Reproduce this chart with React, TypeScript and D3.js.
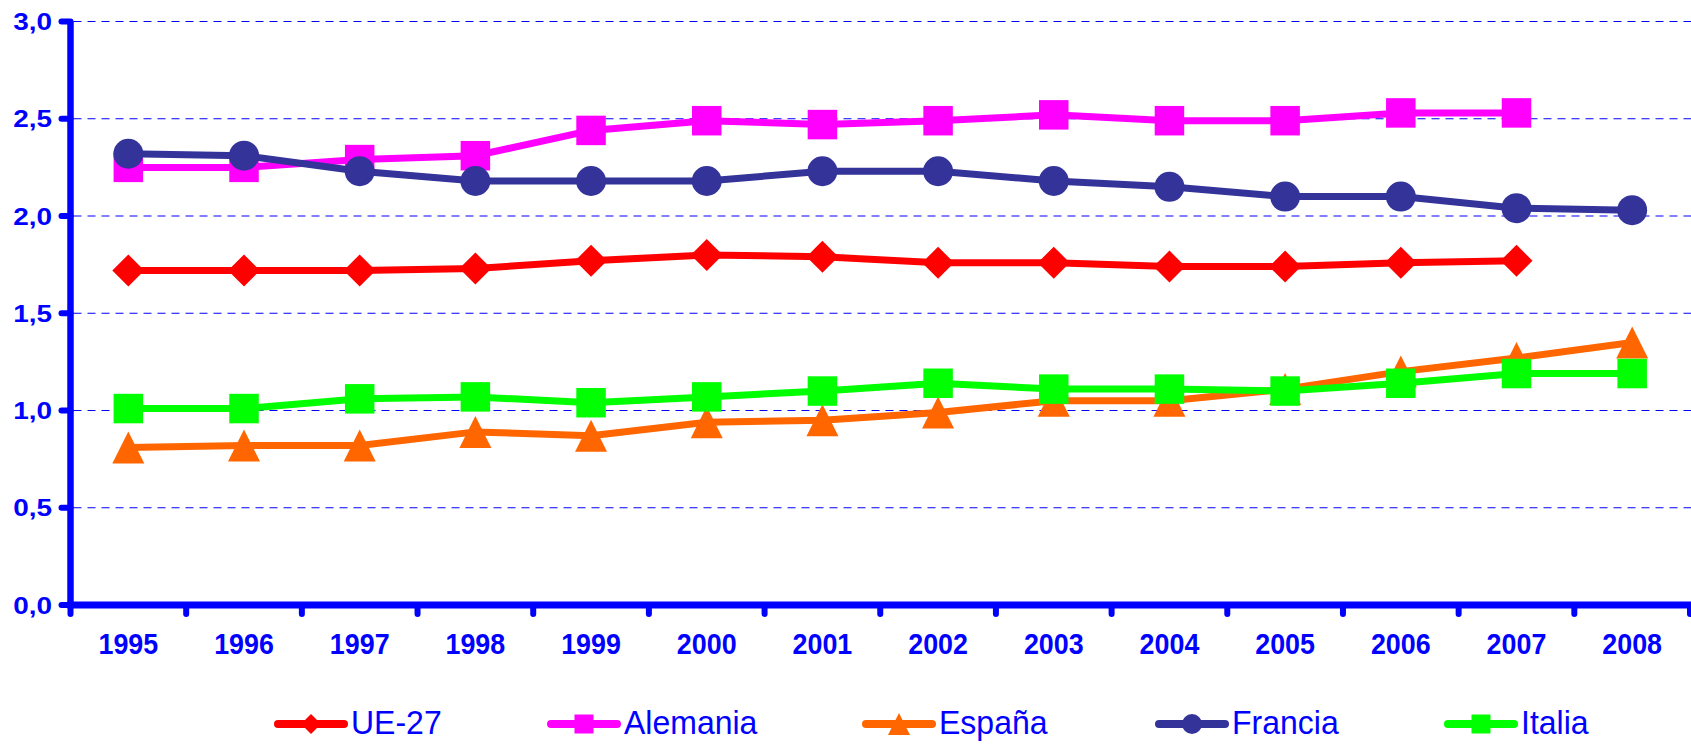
import React from "react";
import * as d3 from "d3";

const years = ["1995","1996","1997","1998","1999","2000","2001","2002","2003","2004","2005","2006","2007","2008"];
const yTicks = [0, 0.5, 1.0, 1.5, 2.0, 2.5, 3.0];

const ue27 = [1.72,1.72,1.72,1.73,1.77,1.80,1.79,1.76,1.76,1.74,1.74,1.76,1.77, null];
const alemania = [2.25,2.25,2.29,2.31,2.44,2.49,2.47,2.49,2.52,2.49,2.49,2.53,2.53, null];
const espana = [0.81,0.82,0.82,0.89,0.87,0.94,0.95,0.99,1.05,1.05,1.11,1.20,1.27,1.35];
const francia = [2.32,2.31,2.23,2.18,2.18,2.18,2.23,2.23,2.18,2.15,2.10,2.10,2.04,2.03];
const italia = [1.01,1.01,1.06,1.07,1.04,1.07,1.10,1.14,1.11,1.11,1.10,1.14,1.19,1.19];

const seriesNames = ["UE-27", "Alemania", "España", "Francia", "Italia"];
const seriesValues = [ue27, alemania, espana, francia, italia];
const seriesColors = ["#ff0000", "#ff00ff", "#ff6600", "#333399", "#00ff00"];
const seriesMarkers = ["diamond", "square", "triangle", "circle", "square"];

const W = 1691, H = 744;
const AX_LEFT = 70.5, AX_RIGHT = 1690, AX_BOTTOM = 605, AX_TOP = 21.5;
const BLUE = "#0000ff";
const FONT = "'Liberation Sans', Arial, sans-serif";
const legendX = [274, 547, 862, 1155, 1444];

function markerPath(type: string, size: number): string {
  const h = size / 2;
  if (type === "diamond") return `M0,${-h}L${h},0L0,${h}L${-h},0Z`;
  if (type === "square") return `M${-h},${-h}H${h}V${h}H${-h}Z`;
  if (type === "triangle") return `M0,${-h}L${h},${h}L${-h},${h}Z`;
  const r = h;
  return `M${r},0A${r},${r} 0 1,1 ${-r},0A${r},${r} 0 1,1 ${r},0Z`;
}

const markerSizes: Record<string, number> = { diamond: 32, square: 29.5, triangle: 32, circle: 30 };
const legendSizes: Record<string, number> = { diamond: 20, square: 19, triangle: 22, circle: 20 };

export default function App() {
  const x = d3.scaleBand<string>().domain(years).range([AX_LEFT, AX_RIGHT]).paddingInner(0).paddingOuter(0);
  const y = d3.scaleLinear().domain([0, 3]).range([AX_BOTTOM, AX_TOP]);
  const cx = (yr: string) => (x(yr) as number) + x.bandwidth() / 2;

  const line = d3.line<[string, number | null]>()
    .defined(d => d[1] !== null)
    .x(d => cx(d[0]))
    .y(d => y(d[1] as number));

  const fmt = (v: number) => v.toFixed(1).replace(".", ",");
  const boundaries = years.map(yr => x(yr) as number).concat([AX_RIGHT]);

  return (
    <svg width={W} height={H} style={{ position: "absolute", left: 0, top: 0, background: "#fff" }} fontFamily={FONT}>
      {/* grid */}
      {yTicks.filter(t => t > 0).map(t => (
        <line key={"g" + t} x1={AX_LEFT + 3} x2={W} y1={y(t)} y2={y(t)} stroke={BLUE} strokeWidth={1.2} strokeDasharray="8 6" />
      ))}
      {/* y ticks */}
      {yTicks.map(t => (
        <line key={"yt" + t} x1={AX_LEFT - 9} x2={AX_LEFT} y1={y(t)} y2={y(t)} stroke={BLUE} strokeWidth={6} strokeLinecap="round" />
      ))}
      {/* x ticks */}
      {boundaries.map((b, i) => (
        <line key={"xt" + i} x1={b} x2={b} y1={AX_BOTTOM} y2={AX_BOTTOM + 9} stroke={BLUE} strokeWidth={6} strokeLinecap="round" />
      ))}
      {/* axes */}
      <line x1={AX_LEFT} x2={AX_LEFT} y1={AX_TOP} y2={AX_BOTTOM} stroke={BLUE} strokeWidth={6.5} />
      <line x1={AX_LEFT - 3} x2={W} y1={AX_BOTTOM} y2={AX_BOTTOM} stroke={BLUE} strokeWidth={7} />
      {/* y labels */}
      {yTicks.map(t => (
        <g key={"yl" + t} transform={`translate(52,${y(t) + 8.7}) scale(1.14,1)`}>
          <text x={0} y={0} textAnchor="end" fontSize={24.5} fontWeight="bold" fill={BLUE}>{fmt(t)}</text>
        </g>
      ))}
      {/* x labels */}
      {years.map(yr => (
        <g key={"xl" + yr} transform={`translate(${cx(yr)},653.6) scale(0.92,1)`}>
          <text x={0} y={0} textAnchor="middle" fontSize={29.2} fontWeight="bold" fill={BLUE}>{yr}</text>
        </g>
      ))}
      {/* series */}
      {seriesValues.map((vals, si) => {
        const pts: [string, number | null][] = years.map((yr, i) => [yr, vals[i] ?? null]);
        const m = seriesMarkers[si];
        return (
          <g key={"s" + si}>
            <path d={line(pts) || ""} fill="none" stroke={seriesColors[si]} strokeWidth={7} />
            {pts.filter(p => p[1] !== null).map(p => (
              <path key={p[0]} d={markerPath(m, markerSizes[m])} transform={`translate(${cx(p[0])},${y(p[1] as number)})`} fill={seriesColors[si]} />
            ))}
          </g>
        );
      })}
      {/* legend */}
      {seriesNames.map((name, si) => {
        const lx = legendX[si];
        const m = seriesMarkers[si];
        return (
          <g key={"lg" + si}>
            <line x1={lx + 4} x2={lx + 70} y1={724} y2={724} stroke={seriesColors[si]} strokeWidth={8} strokeLinecap="round" />
            <path d={markerPath(m, legendSizes[m])} transform={`translate(${lx + 37},724)`} fill={seriesColors[si]} />
            <g transform={`translate(${lx + 77},733.5) scale(0.97,1)`}>
              <text x={0} y={0} fontSize={33} fill={BLUE}>{name}</text>
            </g>
          </g>
        );
      })}
    </svg>
  );
}
